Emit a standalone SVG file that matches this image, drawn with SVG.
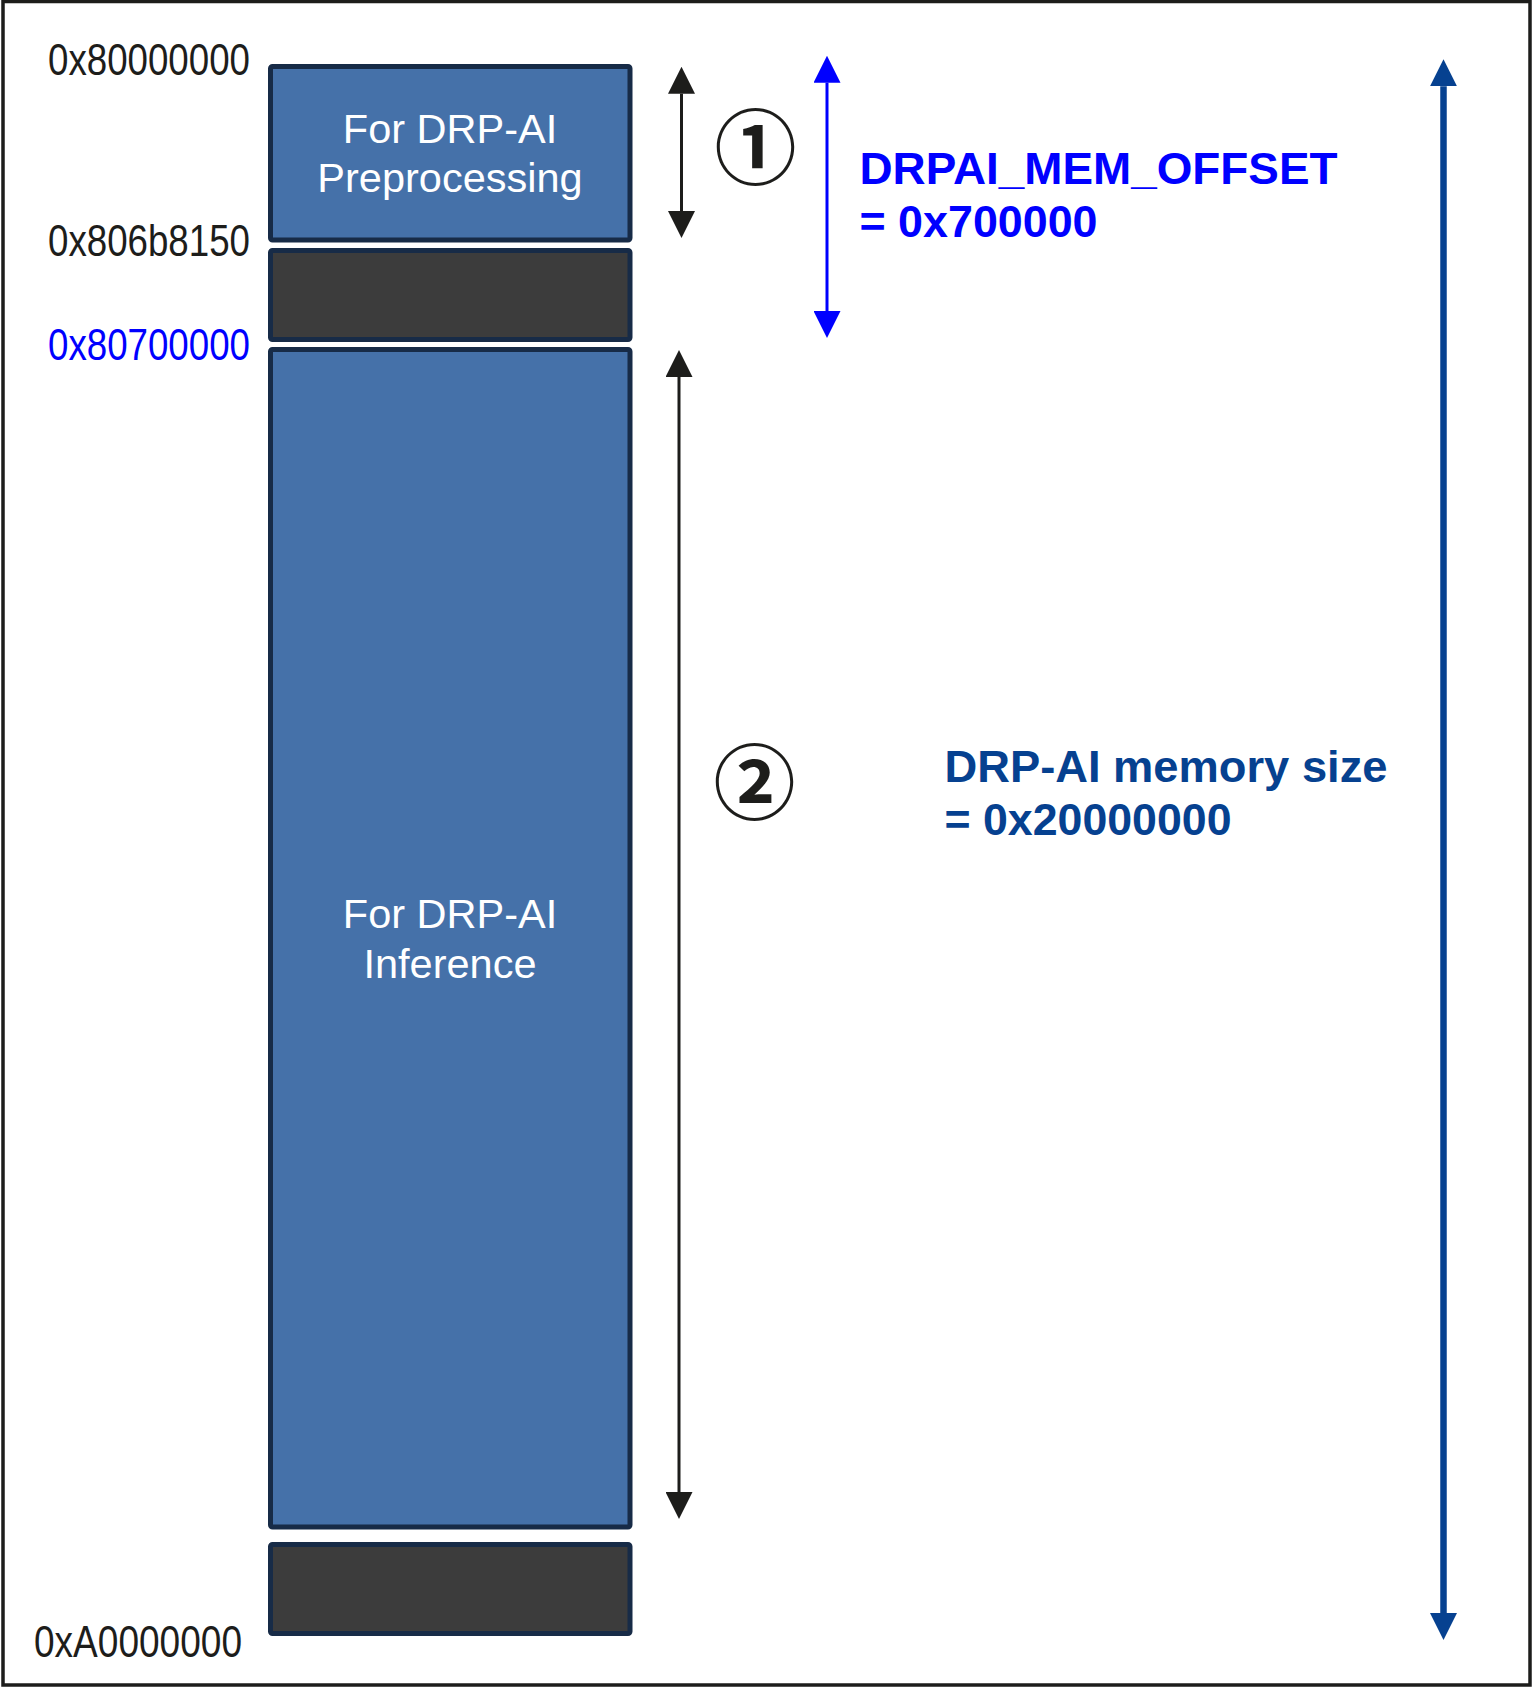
<svg xmlns="http://www.w3.org/2000/svg" width="1533" height="1696" viewBox="0 0 1533 1696">
<style>
.blk{fill:#4571A9;stroke:#172B47;stroke-width:5}
.gap{fill:#3C3C3C;stroke:#172B47;stroke-width:5}
.addr{font-family:"Liberation Sans",Arial,sans-serif;font-size:44px;fill:#1d1d1b}
.lbl{font-family:"Liberation Sans",Arial,sans-serif;font-size:41.5px;fill:#ffffff;text-anchor:middle}
.note{font-family:"Liberation Sans",Arial,sans-serif;font-weight:bold;font-size:44px}
.num{font-family:"Noto Sans CJK JP",sans-serif;font-weight:bold;font-size:82px;fill:#1d1d1b;text-anchor:middle}
</style>
<defs>
<marker id="hk" viewBox="0 0 27 27" refX="0" refY="13.5" markerWidth="27" markerHeight="27" markerUnits="userSpaceOnUse" orient="auto-start-reverse"><path d="M0,0 L27,13.5 L0,27 z" fill="#1d1d1b"/></marker>
<marker id="hb" viewBox="0 0 27 27" refX="0" refY="13.5" markerWidth="27" markerHeight="27" markerUnits="userSpaceOnUse" orient="auto-start-reverse"><path d="M0,0 L27,13.5 L0,27 z" fill="#0000FF"/></marker>
<marker id="hd" viewBox="0 0 27 27" refX="0" refY="13.5" markerWidth="27" markerHeight="27" markerUnits="userSpaceOnUse" orient="auto-start-reverse"><path d="M0,0 L27,13.5 L0,27 z" fill="#064190"/></marker>
</defs>
<rect x="0" y="0" width="1533" height="1696" fill="#ffffff"/>
<rect x="3" y="1.5" width="1527" height="1683.5" fill="none" stroke="#1d1d1b" stroke-width="3.5"/>

<g id="block-preprocessing">
<rect class="blk" x="270.5" y="66.5" width="359.5" height="173.5" rx="2"/>
<text class="lbl" x="450" y="143">For DRP-AI</text>
<text class="lbl" x="450" y="192">Preprocessing</text>
</g>
<g id="block-gap1">
<rect class="gap" x="270.5" y="250.5" width="359.5" height="89" rx="2"/>
</g>
<g id="block-inference">
<rect class="blk" x="270.5" y="349.5" width="359.5" height="1177.5" rx="2"/>
<text class="lbl" x="450" y="928.3">For DRP-AI</text>
<text class="lbl" x="450" y="978.3">Inference</text>
</g>
<g id="block-gap2">
<rect class="gap" x="270.5" y="1544.5" width="359.5" height="89" rx="2"/>
</g>

<g id="addresses">
<text class="addr" x="48" y="75" textLength="202" lengthAdjust="spacingAndGlyphs">0x80000000</text>
<text class="addr" x="48" y="255.5" textLength="202" lengthAdjust="spacingAndGlyphs">0x806b8150</text>
<text class="addr" x="48" y="359.5" textLength="202" lengthAdjust="spacingAndGlyphs" style="fill:#0000FF">0x80700000</text>
<text class="addr" x="34" y="1656.5" textLength="208" lengthAdjust="spacingAndGlyphs">0xA0000000</text>
</g>

<g id="connectors">
<line x1="681.5" y1="93.7" x2="681.5" y2="211" stroke="#1d1d1b" stroke-width="3" marker-start="url(#hk)" marker-end="url(#hk)"/>
<line x1="827" y1="82.7" x2="827" y2="311" stroke="#0000FF" stroke-width="3" marker-start="url(#hb)" marker-end="url(#hb)"/>
<line x1="679" y1="377" x2="679" y2="1492" stroke="#1d1d1b" stroke-width="3" marker-start="url(#hk)" marker-end="url(#hk)"/>
<line x1="1443.5" y1="86.3" x2="1443.5" y2="1613" stroke="#064190" stroke-width="6.5" marker-start="url(#hd)" marker-end="url(#hd)"/>
</g>

<g id="marker-1">
<text class="num" x="755.5" y="177.5">①</text>
</g>
<g id="marker-2">
<text class="num" x="754.5" y="812.5">②</text>
</g>

<g id="note-offset">
<text class="note" x="859.5" y="184" fill="#0000FF" style="font-size:45px" textLength="478" lengthAdjust="spacingAndGlyphs">DRPAI_MEM_OFFSET</text>
<text class="note" x="859.5" y="237" fill="#0000FF" style="font-size:45px" textLength="238" lengthAdjust="spacingAndGlyphs">= 0x700000</text>
</g>
<g id="note-size">
<text class="note" x="944.5" y="781.7" fill="#064190" style="font-size:45px" textLength="443" lengthAdjust="spacingAndGlyphs">DRP-AI memory size</text>
<text class="note" x="944.5" y="835" fill="#064190" style="font-size:45px" textLength="287" lengthAdjust="spacingAndGlyphs">= 0x20000000</text>
</g>
</svg>
